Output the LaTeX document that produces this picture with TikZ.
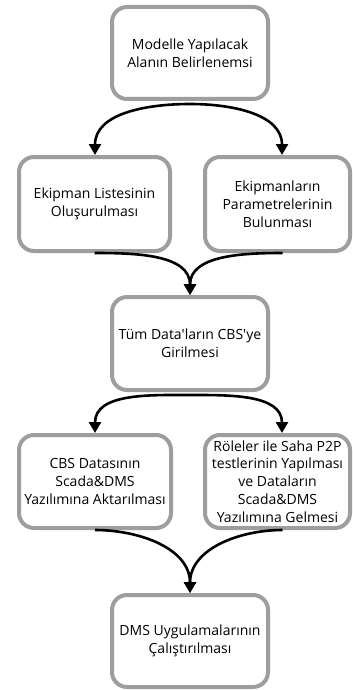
\documentclass[tikz,border=0pt]{standalone}
\usepackage{fontspec}
\setmainfont{Open Sans}
\usetikzlibrary{arrows.meta}
\definecolor{boxgray}{RGB}{158,158,158}
\tikzset{
  box/.style={draw=boxgray, line width=4pt, rounded corners=15pt, fill=white,
    align=center, inner sep=0pt, font=\fontsize{14}{17.8}\selectfont},
  flow/.style={line width=2.6pt, black, -{Triangle[width=12pt,length=11pt]}}
}
\begin{document}
\begin{tikzpicture}[x=1pt,y=-1pt]
\useasboundingbox (0,0) rectangle (353,690);
\node[box, minimum width=156pt, minimum height=92pt] (n1) at (190,53) {Modelle Yapılacak\\Alanın Belirlenemsi};
\node[box, minimum width=151pt, minimum height=94pt] (n2) at (94.5,204) {Ekipman Listesinin\\Oluşurulması};
\node[box, minimum width=145pt, minimum height=94pt] (n3) at (277.5,204) {Ekipmanların\\Parametrelerinin\\Bulunması};
\node[box, minimum width=156pt, minimum height=93pt] (n4) at (190,343.5) {Tüm Data\textquotesingle ların CBS\textquotesingle ye\\Girilmesi};
\node[box, minimum width=152pt, minimum height=93pt] (n5) at (95,481.5) {CBS Datasının\\Scada\&DMS\\Yazılımına Aktarılması};
\node[box, minimum width=145pt, minimum height=93pt] (n6) at (277.5,481.5) {Röleler ile Saha P2P\\testlerinin Yapılması\\ve Dataların\\Scada\&DMS\\Yazılımına Gelmesi};
\node[box, minimum width=156pt, minimum height=92pt] (n7) at (190,641) {DMS Uygulamalarının\\Çalıştırılması};
\coordinate (s1) at ([yshift=-3pt]n1.south);
\coordinate (s4) at ([yshift=-3pt]n4.south);
\draw[flow] (s1) to[out=180,in=90] ([xshift=0.5pt]n2.north);
\draw[flow] (s1) to[out=0,in=90] ([xshift=4.5pt]n3.north);
\draw[flow] (n2.south) to[out=0,in=90] (n4.north);
\draw[flow] ([xshift=5pt]n3.south) to[out=180,in=90] (n4.north);
\draw[flow] (s4) to[out=180,in=90] ([xshift=0pt]n5.north);
\draw[flow] (s4) to[out=0,in=90] ([xshift=4.5pt]n6.north);
\draw[flow] (n5.south) to[out=0,in=90] (n7.north);
\draw[flow] ([xshift=5pt]n6.south) to[out=180,in=90] (n7.north);
\end{tikzpicture}
\end{document}
